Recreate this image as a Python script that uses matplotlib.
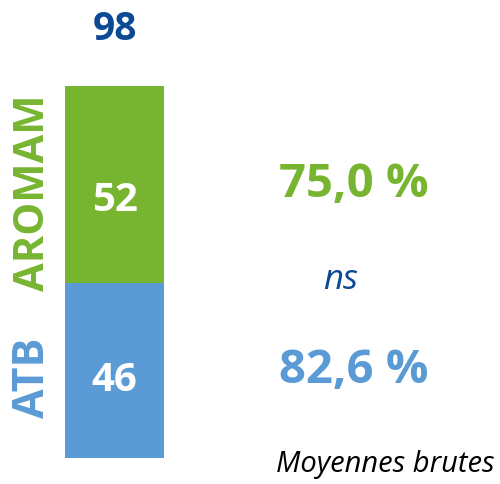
import matplotlib
matplotlib.use("Agg")
import matplotlib.pyplot as plt

# data
groups = ["ATB", "AROMAM"]
counts = [46, 52]
rates = ["82,6 %", "75,0 %"]
colors = ["#5B9BD5", "#77B531"]
dark_blue = "#0D4A96"

plt.rcParams['font.family'] = ['Open Sans', 'DejaVu Sans']

W, H = 500, 484
fig = plt.figure(figsize=(W / 100, H / 100), dpi=100)

# the single stacked bar
ax = fig.add_axes([65 / W, 26 / H, 99 / W, 372 / H])
bottom = 0
label_offsets = [-20, -26]  # pixels from segment centre down to the baseline
for n, c, off in zip(counts, colors, label_offsets):
    ax.bar(0, n, width=1, bottom=bottom, color=c, linewidth=0)
    ax.annotate(str(n), xy=(0, bottom + n / 2), xytext=(0, off),
                textcoords="offset pixels", ha="center", va="baseline",
                color="white", fontsize=29, fontweight="bold")
    bottom += n
ax.set_xlim(-0.5, 0.5)
ax.set_ylim(0, sum(counts))
ax.axis("off")

# total on top
ax.annotate(str(sum(counts)), xy=(0, sum(counts)), xytext=(0, 46),
            textcoords="offset pixels", ha="center", va="baseline",
            color=dark_blue, fontsize=28, fontweight="bold",
            annotation_clip=False)

def px(x, y):
    return x / W, 1 - y / H

# group names, rotated
fig.text(*px(44, 378), groups[0], rotation=90, rotation_mode="anchor",
         ha="center", va="baseline", color=colors[0], fontsize=31,
         fontweight="bold")
fig.text(*px(44, 193), groups[1], rotation=90, rotation_mode="anchor",
         ha="center", va="baseline", color=colors[1], fontsize=30,
         fontweight="bold")

# percentages
fig.text(*px(354, 197), rates[1], ha="center", va="baseline",
         color=colors[1], fontsize=34, fontweight="bold")
fig.text(*px(354, 383), rates[0], ha="center", va="baseline",
         color=colors[0], fontsize=34, fontweight="bold")
fig.text(*px(341, 289), "ns", ha="center", va="baseline",
         color=dark_blue, fontsize=25, style="italic")

fig.text(*px(495, 472), "Moyennes brutes", ha="right", va="baseline",
         color="black", fontsize=21, style="italic")

fig.savefig("out.png", dpi=100)
